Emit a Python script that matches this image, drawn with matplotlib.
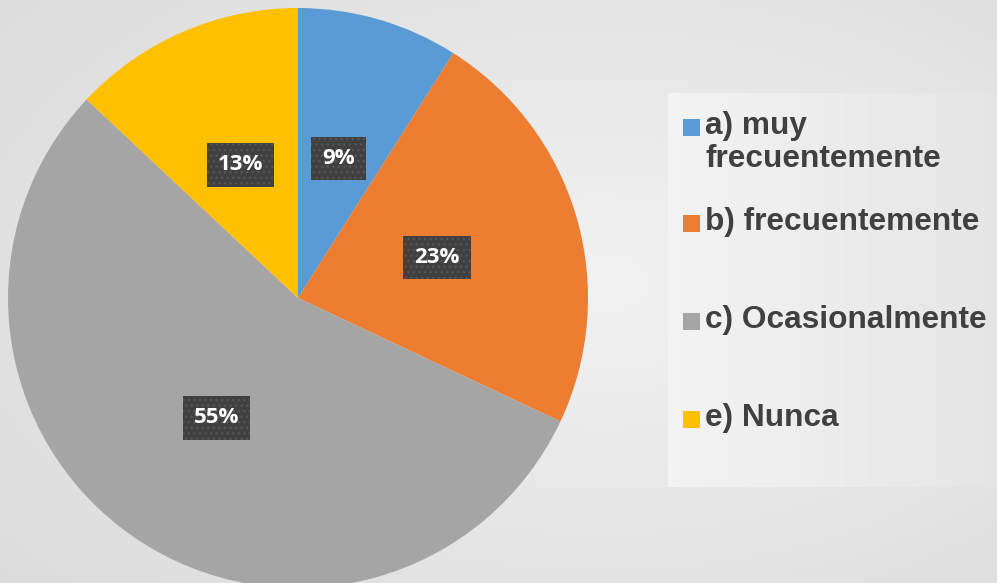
import numpy as np
import matplotlib
matplotlib.use("Agg")
import matplotlib.pyplot as plt
from matplotlib.patches import Rectangle

# datos del grafico
categorias = ["a) muy\nfrecuentemente", "b) frecuentemente", "c) Ocasionalmente", "e) Nunca"]
porcentajes = [9, 23, 55, 13]
colores = ["#5b9bd5", "#ed7d31", "#a5a5a5", "#ffc000"]

W, H = 997, 583
fig = plt.figure(figsize=(W / 100, H / 100), dpi=100)
ax = fig.add_axes([0, 0, 1, 1])

# fondo con degradado radial
yy, xx = np.mgrid[0:H, 0:W]
d = np.sqrt(((xx - 600) / W) ** 2 + ((yy - 300) / H) ** 2)
g = 0.95 - 0.09 * np.clip(d / 0.8, 0, 1)
fondo = np.dstack([g, g, g])
ax.imshow(fondo, extent=[0, W, 0, H], origin="lower", zorder=0, interpolation="bilinear")

cx, cy, R = 298, H - 298, 290
wedges, texts, autotexts = ax.pie(
    porcentajes, colors=colores, startangle=90, counterclock=False,
    center=(cx, cy), radius=R, autopct="%d%%", pctdistance=0.5,
    wedgeprops=dict(linewidth=0, zorder=2), frame=True)
ax.set_xlim(0, W)
ax.set_ylim(0, H)
ax.set_aspect("equal")
ax.axis("off")

for t in autotexts:
    t.set_color("white")
    t.set_fontsize(16)
    t.set_fontweight("bold")
    t.set_family("Open Sans")
    t.set_zorder(5)
    t.set_bbox(dict(boxstyle="square,pad=0.5", fc="#404040", ec="#555555",
                    lw=0, hatch="..."))

# caja de la leyenda con degradado
lx0, ly0, lw, lh = 668, H - 487, 329, 394
gx = np.linspace(0.955, 0.90, 200)
caja = np.dstack([np.tile(gx, (50, 1))] * 3)
ax.imshow(caja, extent=[lx0, lx0 + lw, ly0, ly0 + lh], zorder=1, interpolation="bilinear")
ax.set_xlim(0, W)
ax.set_ylim(0, H)

ys = [128, 224, 322, 420]
for cat, col, y in zip(categorias, colores, ys):
    ax.add_patch(Rectangle((683, H - y - 8), 17, 17, fc=col, ec="none", zorder=3))
    ax.text(705, H - y + 17, cat, fontsize=22.8, fontweight="bold", color="#404040",
            family="Liberation Sans", va="top", linespacing=1.12, zorder=3)

fig.savefig("out.png", dpi=100)
